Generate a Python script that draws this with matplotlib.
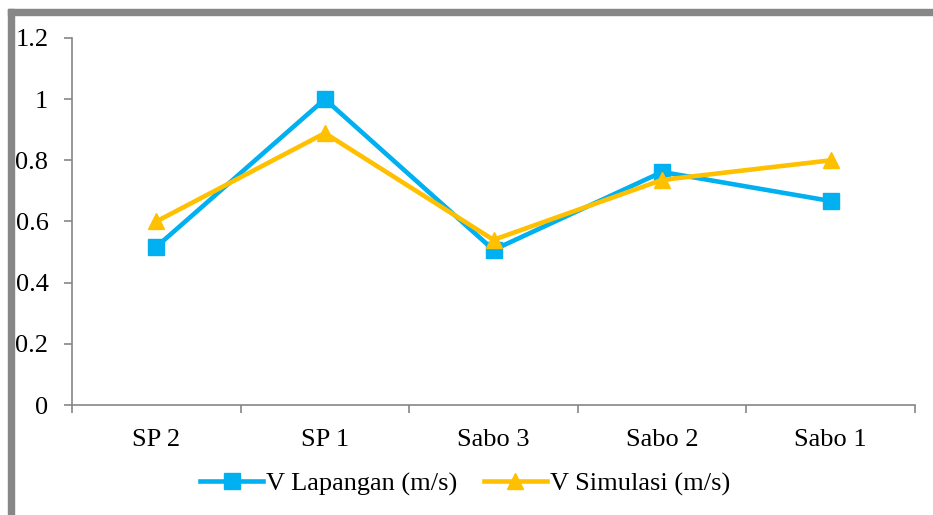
import numpy as np
import matplotlib
matplotlib.use("Agg")
import matplotlib.pyplot as plt
from matplotlib.patches import Rectangle

plt.rcParams['font.family'] = ['Liberation Serif', 'DejaVu Serif']

categories = ['SP 2', 'SP 1', 'Sabo 3', 'Sabo 2', 'Sabo 1']
v_lapangan = [0.517, 1.0, 0.507, 0.762, 0.667]
v_simulasi = [0.6, 0.889, 0.54, 0.736, 0.8]
y_ticks = [0, 0.2, 0.4, 0.6, 0.8, 1, 1.2]
y_labels = ['0', '0.2', '0.4', '0.6', '0.8', '1', '1.2']

W, H = 933, 515
fig = plt.figure(figsize=(W / 100, H / 100), dpi=100)
ax = fig.add_axes([72 / W, 1 - 405 / H, (915 - 72) / W, (405 - 38) / H])

# gray frame (chart border, cropped)
fig.patches.append(Rectangle((8 / W, 0), 6 / W, 1 - 9 / H, transform=fig.transFigure,
                             color='#878787', zorder=0))
fig.patches.append(Rectangle((8 / W, 1 - 15 / H), 1, 6 / H, transform=fig.transFigure,
                             color='#878787', zorder=0))

x = np.arange(len(categories))
ax.plot(x, v_lapangan, color='#00B0F0', lw=3.3, marker='s', ms=11, label='V Lapangan (m/s)',
        clip_on=False, zorder=3)
ax.plot(x, v_simulasi, color='#FFC000', lw=3.3, marker='^', ms=11, label='V Simulasi (m/s)',
        clip_on=False, zorder=4)

ax.set_xlim(-0.5, len(categories) - 0.5)
ax.set_ylim(0, 1.2)
ax.set_yticks(y_ticks)
ax.set_yticklabels(y_labels)
ax.set_xticks(x)
ax.set_xticklabels(categories)
ax.set_xticks(np.arange(len(categories) + 1) - 0.5, minor=True)

for s in ['top', 'right']:
    ax.spines[s].set_visible(False)
for s in ['left', 'bottom']:
    ax.spines[s].set_color('#868686')
    ax.spines[s].set_linewidth(1.2)

ax.tick_params(axis='y', direction='out', length=6, width=1.2, color='#868686',
               labelsize=19, pad=11)
ax.tick_params(axis='x', which='major', length=0, labelsize=19, pad=17)
ax.tick_params(axis='x', which='minor', direction='out', length=6, width=1.2, color='#868686')

ax.legend(loc='center', bbox_to_anchor=((465 - 72) / 843, (405 - 484) / 367),
          ncol=2, frameon=False, fontsize=19, handlelength=2.4, handletextpad=0.1,
          columnspacing=1.0, borderaxespad=0)

fig.savefig('out.png', dpi=100)
